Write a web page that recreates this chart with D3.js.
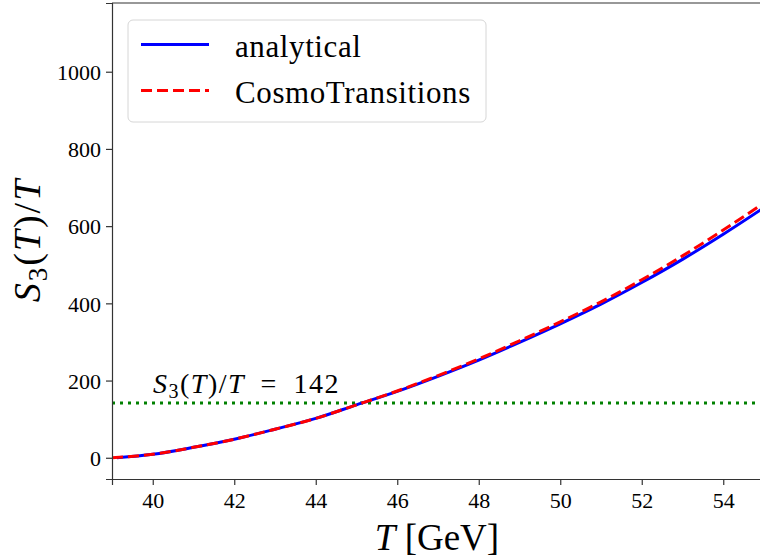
<!DOCTYPE html>
<html>
<head>
<meta charset="utf-8">
<script src="https://cdn.jsdelivr.net/npm/d3@7"></script>
<style>
  body { margin: 0; background: #fff; }
  text { font-family: "Liberation Serif", "DejaVu Serif", serif; fill: #000; }
</style>
</head>
<body>
<svg id="chart" width="760" height="559"></svg>
<script>
// temperatures (GeV) and S3(T)/T
var tempAnalytical = [39.12, 40, 41, 42, 43, 44, 45, 46, 47, 48, 49, 50, 51, 52, 53, 54, 55];
var analytical     = [0, 9, 27, 48, 74, 102, 137, 172, 211, 253, 299, 347, 398, 454, 514, 579, 648];

var tempCosmo = [39, 40, 41, 42, 43, 44, 45, 46, 47, 48, 49, 50, 51, 52, 53, 54, 55];
var cosmo     = [0, 9, 27, 48, 74, 102, 137, 173, 213, 256, 303, 352, 404, 461, 523, 590, 660];

var nucleation = 142;
var xTicks = [40, 42, 44, 46, 48, 50, 52, 54];
var yTicks = [0, 200, 400, 600, 800, 1000];

var svg = d3.select("#chart");

var x = d3.scaleLinear().domain([39, 55]).range([112, 764]);
var y = d3.scaleLinear().domain([-55, 1178]).range([479, 3]);

// clip to the axes box
svg.append("clipPath").attr("id", "plot")
  .append("rect")
  .attr("x", x(39)).attr("y", y(1178))
  .attr("width", x(55) - x(39)).attr("height", y(-55) - y(1178));

var plot = svg.append("g").attr("clip-path", "url(#plot)");

plot.append("line")
  .attr("x1", x(39)).attr("x2", x(55))
  .attr("y1", y(nucleation)).attr("y2", y(nucleation))
  .attr("stroke", "#008000")
  .attr("stroke-width", 3)
  .attr("stroke-dasharray", "3,5");

var line = d3.line()
  .x(function(d) { return x(d[0]); })
  .y(function(d) { return y(d[1]); })
  .curve(d3.curveMonotoneX);

plot.append("path")
  .datum(d3.zip(tempAnalytical, analytical))
  .attr("d", line)
  .attr("fill", "none")
  .attr("stroke", "#0000ff")
  .attr("stroke-width", 3);

plot.append("path")
  .datum(d3.zip(tempCosmo, cosmo))
  .attr("d", line)
  .attr("fill", "none")
  .attr("stroke", "#ff0000")
  .attr("stroke-width", 3)
  .attr("stroke-dasharray", "11,5");

// axes
var xAxis = svg.append("g")
  .attr("transform", "translate(0," + y(-55) + ")")
  .call(d3.axisBottom(x).tickValues(xTicks).tickSize(6).tickPadding(7).tickFormat(d3.format("d")));

var yAxis = svg.append("g")
  .attr("transform", "translate(" + x(39) + ",0)")
  .call(d3.axisLeft(y).tickValues(yTicks).tickSize(6).tickPadding(5).tickFormat(d3.format("d")));

[xAxis, yAxis].forEach(function(a) {
  a.attr("font-family", null).attr("font-size", null);
  a.select(".domain").attr("stroke", "#333").attr("stroke-width", 1.2);
  a.selectAll(".tick line").attr("stroke", "#333").attr("stroke-width", 1.2);
  a.selectAll(".tick text")
    .attr("font-size", 22)
    .attr("fill", "#000");
});
yAxis.selectAll(".tick text").attr("dy", "0.35em");

// top spine
svg.append("line")
  .attr("x1", x(39)).attr("x2", x(55))
  .attr("y1", y(1178)).attr("y2", y(1178))
  .attr("stroke", "#333").attr("stroke-width", 1.2);

// axis labels
var xl = svg.append("text")
  .attr("x", 437).attr("y", 550)
  .attr("text-anchor", "middle")
  .attr("font-size", 37);
xl.append("tspan").attr("font-style", "italic").text("T");
xl.append("tspan").text(" [GeV]");

var yl = svg.append("text")
  .attr("transform", "translate(40,240) rotate(-90)")
  .attr("text-anchor", "middle")
  .attr("font-size", 38)
  .attr("letter-spacing", 2);
yl.append("tspan").attr("font-style", "italic").text("S");
yl.append("tspan").attr("font-size", 27).attr("dy", 7).text("3");
yl.append("tspan").attr("dy", -7).text("(");
yl.append("tspan").attr("font-style", "italic").text("T");
yl.append("tspan").text(")/");
yl.append("tspan").attr("font-style", "italic").text("T");

// annotation
var ann = svg.append("text")
  .attr("x", 153).attr("y", 393)
  .attr("font-size", 28)
  .attr("letter-spacing", 1.5);
ann.append("tspan").attr("font-style", "italic").text("S");
ann.append("tspan").attr("font-size", 20).attr("dy", 5).text("3");
ann.append("tspan").attr("dy", -5).text("(");
ann.append("tspan").attr("font-style", "italic").text("T");
ann.append("tspan").text(")/");
ann.append("tspan").attr("font-style", "italic").text("T");
ann.append("tspan").text("\u2002=\u2002" + nucleation);

// legend
var legend = svg.append("g");
legend.append("rect")
  .attr("x", 128).attr("y", 20).attr("width", 358).attr("height", 102)
  .attr("rx", 5)
  .attr("fill", "#fff").attr("fill-opacity", 0.8)
  .attr("stroke", "#d6d6d6").attr("stroke-width", 1);

var legendItems = [
  { label: "analytical", color: "#0000ff", dash: null },
  { label: "CosmoTransitions", color: "#ff0000", dash: "11,5" }
];

legendItems.forEach(function(item, i) {
  var cy = 44.5 + i * 46;
  legend.append("line")
    .attr("x1", 141).attr("x2", 209)
    .attr("y1", cy).attr("y2", cy)
    .attr("stroke", item.color)
    .attr("stroke-width", 3)
    .attr("stroke-dasharray", item.dash);
  legend.append("text")
    .attr("x", 235).attr("y", cy + 12)
    .attr("font-size", 31)
    .attr("letter-spacing", 0.6)
    .text(item.label);
});
</script>
</body>
</html>
